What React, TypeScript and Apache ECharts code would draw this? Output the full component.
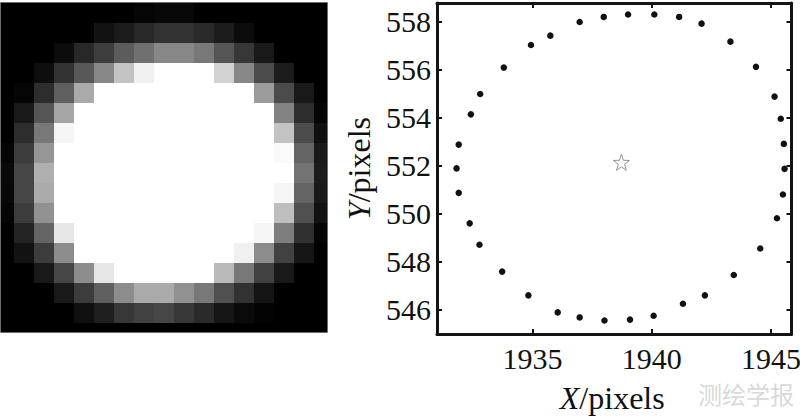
import React, { useEffect, useRef } from "react";
import * as echarts from "echarts";

const SERIF = '"Liberation Serif", serif';

const dotsX = [1936.98, 1937.99, 1939.01, 1940.11, 1941.15, 1942.09, 1943.3, 1944.37, 1945.15, 1945.41, 1945.54, 1945.57, 1945.5, 1945.25, 1944.55, 1943.44, 1942.23, 1941.31, 1940.08, 1939.09, 1938.02, 1936.98, 1936.06, 1934.83, 1933.73, 1932.78, 1932.37, 1931.91, 1931.82, 1931.91, 1932.42, 1932.81, 1933.8, 1934.94, 1935.75];
const dotsY = [558.0, 558.21, 558.31, 558.31, 558.21, 557.93, 557.18, 556.13, 554.89, 553.97, 552.92, 551.88, 550.81, 549.82, 548.56, 547.46, 546.61, 546.26, 545.76, 545.6, 545.56, 545.69, 545.9, 546.61, 547.6, 548.72, 549.61, 550.88, 551.9, 552.89, 554.15, 555.0, 556.1, 557.04, 557.43];
const star = [1938.73, 552.15];

const pixelRows = [
  [0, 0, 0, 0, 0, 0, 0, 5, 8, 8, 0, 0, 0, 0, 0, 0, 0],
  [0, 0, 0, 0, 0, 18, 28, 40, 50, 50, 42, 28, 12, 0, 0, 0, 0],
  [0, 0, 0, 12, 40, 62, 92, 112, 135, 135, 120, 85, 55, 25, 0, 0, 0],
  [0, 0, 14, 50, 88, 135, 195, 240, 255, 255, 255, 210, 135, 75, 28, 0, 0],
  [0, 5, 45, 95, 170, 255, 255, 255, 255, 255, 255, 255, 255, 155, 75, 25, 0],
  [0, 25, 85, 165, 255, 255, 255, 255, 255, 255, 255, 255, 255, 255, 130, 45, 5],
  [0, 45, 120, 245, 255, 255, 255, 255, 255, 255, 255, 255, 255, 255, 195, 75, 15],
  [5, 60, 150, 255, 255, 255, 255, 255, 255, 255, 255, 255, 255, 255, 250, 100, 25],
  [10, 70, 175, 255, 255, 255, 255, 255, 255, 255, 255, 255, 255, 255, 255, 115, 28],
  [8, 70, 170, 255, 255, 255, 255, 255, 255, 255, 255, 255, 255, 255, 245, 100, 25],
  [5, 60, 145, 255, 255, 255, 255, 255, 255, 255, 255, 255, 255, 255, 190, 80, 18],
  [0, 35, 100, 230, 255, 255, 255, 255, 255, 255, 255, 255, 255, 245, 125, 48, 5],
  [0, 18, 60, 140, 255, 255, 255, 255, 255, 255, 255, 255, 240, 140, 65, 22, 0],
  [0, 0, 25, 70, 140, 230, 255, 255, 255, 255, 255, 185, 120, 65, 25, 0, 0],
  [0, 0, 0, 25, 60, 95, 140, 170, 170, 145, 120, 80, 50, 20, 0, 0, 0],
  [0, 0, 0, 0, 15, 30, 55, 65, 70, 55, 42, 22, 10, 3, 0, 0, 0],
  [0, 0, 0, 0, 0, 0, 0, 0, 0, 0, 0, 0, 0, 0, 0, 0, 0],
];

const xTicks = [1935, 1940, 1945];
const yTicks = [546, 548, 550, 552, 554, 556, 558];

const pixelData: number[][] = [];
pixelRows.forEach((row, r) => row.forEach((v, c) => pixelData.push([c, r, v])));

const box = { left: 437, top: 3, width: 354.5, height: 331, outerBoundsMode: "none" };
const boxColor = "#141414";

function renderPixel(params: any, api: any) {
  const c = api.value(0), r = api.value(1), v = Math.round(api.value(2));
  const p0 = api.coord([c, r]);
  const p1 = api.coord([c + 1, r + 1]);
  const rect = echarts.graphic.clipRectByRect(
    { x: Math.round(p0[0]), y: Math.round(p0[1]), width: Math.round(p1[0]) - Math.round(p0[0]), height: Math.round(p1[1]) - Math.round(p0[1]) },
    { x: params.coordSys.x, y: params.coordSys.y, width: params.coordSys.width, height: params.coordSys.height }
  );
  return rect && { type: "rect", shape: rect, style: { fill: `rgb(${v},${v},${v})` } };
}

function valueAxis(gridIndex: number, min: number, max: number, extra: any = {}) {
  return { type: "value", gridIndex, min, max, splitLine: { show: false }, axisLine: { show: false }, axisTick: { show: false }, axisLabel: { show: false }, ...extra };
}

function frameAxis(min: number, max: number, position: string, ticks: number[], extra: any = {}) {
  return {
    type: "value", gridIndex: 1, min, max, position,
    splitLine: { show: false },
    axisLine: { show: true, onZero: false, lineStyle: { color: boxColor, width: 3 } },
    axisTick: { show: true, inside: true, length: 5, customValues: ticks, lineStyle: { color: boxColor, width: 2 } },
    axisLabel: { show: false },
    ...extra,
  };
}

const labelStyle = { show: true, fontFamily: SERIF, fontSize: 30, color: "#111", hideOverlap: false, formatter: (v: number) => String(v) };
const nameRich = { i: { fontFamily: SERIF, fontSize: 32, fontStyle: "italic", color: "#111", lineHeight: 30 }, t: { fontFamily: SERIF, fontSize: 32, color: "#111", lineHeight: 30 } };
const xMin = 1931.0, xMax = 1945.86, yMin = 545.0, yMax = 558.79;

export default function App() {
  const ref = useRef<HTMLDivElement>(null);
  useEffect(() => {
    const chart = echarts.init(ref.current!, undefined, { renderer: "svg" });
    chart.setOption({
      animation: false,
      backgroundColor: "#fff",
      grid: [
        { left: 0, top: 3, width: 328, height: 329, outerBoundsMode: "none", show: true, backgroundColor: "#000", borderWidth: 0 },
        box,
      ],
      xAxis: [
        valueAxis(0, 0.3, 16.7),
        frameAxis(xMin, xMax, "bottom", xTicks, {
          axisLabel: { ...labelStyle, margin: 9, customValues: xTicks },
          name: "{i|X}{t|/pixels}", nameLocation: "middle", nameGap: 49, nameTextStyle: { rich: nameRich, padding: [0, 4, 0, 0] },
        }),
        frameAxis(xMin, xMax, "top", xTicks),
      ],
      yAxis: [
        valueAxis(0, 0, 16.45, { inverse: true }),
        frameAxis(yMin, yMax, "left", yTicks, {
          axisLabel: { ...labelStyle, margin: 6, customValues: yTicks },
          name: "{i|Y}{t|/pixels}", nameLocation: "middle", nameGap: 63, nameRotate: 90, nameTextStyle: { rich: nameRich },
        }),
        frameAxis(yMin, yMax, "right", yTicks),
      ],
      series: [
        { type: "custom", xAxisIndex: 0, yAxisIndex: 0, renderItem: renderPixel, data: pixelData, silent: true, encode: { x: 0, y: 1 } },
        { type: "scatter", xAxisIndex: 1, yAxisIndex: 1, data: dotsX.map((x, i) => [x, dotsY[i]]), symbol: "circle", symbolSize: 6.5, itemStyle: { color: "#111", opacity: 1 }, silent: true },
        { type: "scatter", xAxisIndex: 1, yAxisIndex: 1, data: [star], symbol: "path://M50 3 L62 37 L98 38 L69 60 L79 95 L50 74 L21 95 L31 60 L2 38 L38 37 Z", symbolSize: 16, itemStyle: { color: "#fff", borderColor: "#777", borderWidth: 0.8, opacity: 1 }, silent: true },
      ],
      graphic: [
        { type: "rect", silent: true, shape: { x: 0.5, y: 2.5, width: 327, height: 330 }, style: { fill: "transparent", stroke: "#6e6e6e", lineWidth: 1 }, z: 10 },
        { type: "text", left: 698, top: 381, silent: true, style: { text: "测绘学报", fontFamily: '"Noto Sans CJK SC"', fontSize: 24, fill: "#d9d9d9" } },
      ],
    });
    return () => chart.dispose();
  }, []);
  return <div ref={ref} style={{ position: "fixed", left: 0, top: 0, width: 800, height: 417 }} />;
}
